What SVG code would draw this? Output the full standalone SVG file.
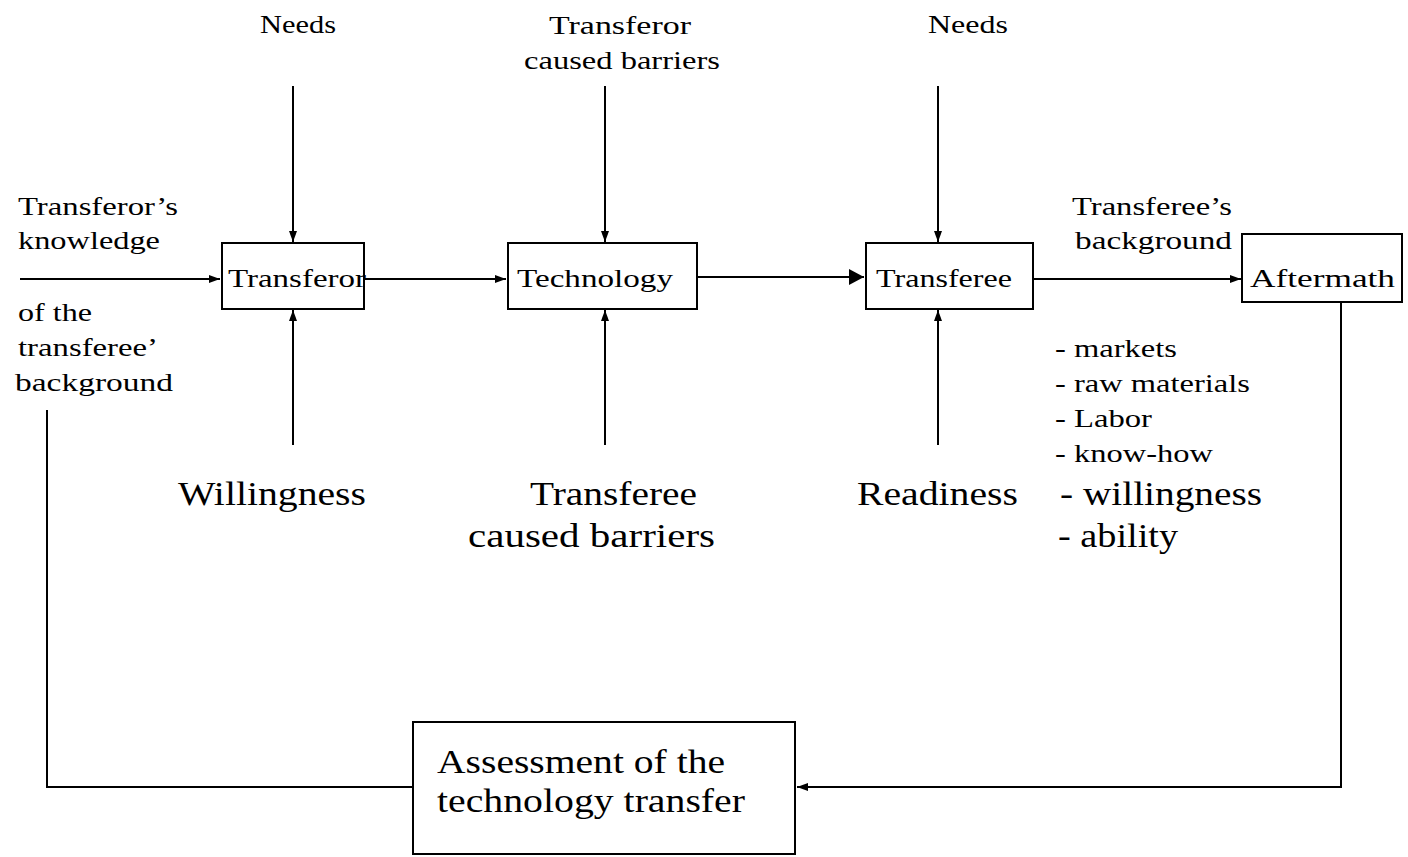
<svg xmlns="http://www.w3.org/2000/svg" width="1408" height="857" viewBox="0 0 1408 857">
  <defs>
    <marker id="arr" markerUnits="userSpaceOnUse" markerWidth="12" markerHeight="10" refX="11" refY="5" orient="auto">
      <path d="M0,1 L11,5 L0,9 Z" fill="#000"/>
    </marker>
    <marker id="arrBig" markerUnits="userSpaceOnUse" markerWidth="16" markerHeight="16" refX="15" refY="8" orient="auto">
      <path d="M0,0 L15,8 L0,16 Z" fill="#000"/>
    </marker>
  </defs>
  <style>
    .box { fill: #fff; stroke: #000; stroke-width: 2; }
    .ln { fill: none; stroke: #000; stroke-width: 2; }
    text { font-family: "Liberation Serif", "Times New Roman", serif; fill: #000; }
    .s { font-size: 25px; }
    .l { font-size: 34px; }
  </style>
  <rect width="1408" height="857" fill="#fff"/>

  <!-- connectors -->
  <g id="connectors">
    <line class="ln" x1="293" y1="86" x2="293" y2="242" marker-end="url(#arr)"/>
    <line class="ln" x1="293" y1="445" x2="293" y2="310" marker-end="url(#arr)"/>
    <line class="ln" x1="20" y1="279" x2="220" y2="279" marker-end="url(#arr)"/>
    <line class="ln" x1="360" y1="279" x2="506" y2="279" marker-end="url(#arr)"/>
    <line class="ln" x1="605" y1="86" x2="605" y2="242" marker-end="url(#arr)"/>
    <line class="ln" x1="605" y1="445" x2="605" y2="310" marker-end="url(#arr)"/>
    <line class="ln" x1="693" y1="277" x2="864" y2="277" marker-end="url(#arrBig)"/>
    <line class="ln" x1="938" y1="86" x2="938" y2="242" marker-end="url(#arr)"/>
    <line class="ln" x1="938" y1="445" x2="938" y2="310" marker-end="url(#arr)"/>
    <line class="ln" x1="1027" y1="279" x2="1241" y2="279" marker-end="url(#arr)"/>
    <polyline class="ln" points="1341,294 1341,787 797,787" marker-end="url(#arr)"/>
    <polyline class="ln" points="47,410 47,787 413,787"/>
  </g>

  <!-- side labels -->
  <g id="labels">
    <text class="s" x="298" y="33" text-anchor="middle" textLength="76" lengthAdjust="spacingAndGlyphs">Needs</text>
    <text class="s" x="620" y="34" text-anchor="middle" textLength="142" lengthAdjust="spacingAndGlyphs">Transferor</text>
    <text class="s" x="622" y="69" text-anchor="middle" textLength="196" lengthAdjust="spacingAndGlyphs">caused barriers</text>
    <text class="s" x="968" y="33" text-anchor="middle" textLength="80" lengthAdjust="spacingAndGlyphs">Needs</text>

    <text class="s" x="18" y="215" textLength="160" lengthAdjust="spacingAndGlyphs">Transferor’s</text>
    <text class="s" x="18" y="249" textLength="142" lengthAdjust="spacingAndGlyphs">knowledge</text>
    <text class="s" x="18" y="321" textLength="74" lengthAdjust="spacingAndGlyphs">of the</text>
    <text class="s" x="18" y="356" textLength="140" lengthAdjust="spacingAndGlyphs">transferee’</text>
    <text class="s" x="15" y="391" textLength="158" lengthAdjust="spacingAndGlyphs">background</text>

    <text class="s" x="1072" y="215" textLength="160" lengthAdjust="spacingAndGlyphs">Transferee’s</text>
    <text class="s" x="1075" y="249" textLength="157" lengthAdjust="spacingAndGlyphs">background</text>

    <text class="s" x="1055" y="357" textLength="122" lengthAdjust="spacingAndGlyphs">- markets</text>
    <text class="s" x="1055" y="392" textLength="195" lengthAdjust="spacingAndGlyphs">- raw materials</text>
    <text class="s" x="1055" y="427" textLength="97" lengthAdjust="spacingAndGlyphs">- Labor</text>
    <text class="s" x="1055" y="462" textLength="158" lengthAdjust="spacingAndGlyphs">- know-how</text>
    <text class="l" x="1060" y="505" textLength="202" lengthAdjust="spacingAndGlyphs">- willingness</text>
    <text class="l" x="1058" y="547" textLength="120" lengthAdjust="spacingAndGlyphs">- ability</text>

    <text class="l" x="178" y="505" textLength="188" lengthAdjust="spacingAndGlyphs">Willingness</text>
    <text class="l" x="530" y="505" textLength="167" lengthAdjust="spacingAndGlyphs">Transferee</text>
    <text class="l" x="468" y="547" textLength="247" lengthAdjust="spacingAndGlyphs">caused barriers</text>
    <text class="l" x="857" y="505" textLength="161" lengthAdjust="spacingAndGlyphs">Readiness</text>
  </g>

  <!-- nodes -->
  <g id="transferor">
    <rect class="box" x="222" y="243" width="142" height="66"/>
    <text class="s" x="228" y="287" textLength="138" lengthAdjust="spacingAndGlyphs">Transferor</text>
  </g>
  <g id="technology">
    <rect class="box" x="508" y="243" width="189" height="66"/>
    <text class="s" x="517" y="287" textLength="156" lengthAdjust="spacingAndGlyphs">Technology</text>
  </g>
  <g id="transferee">
    <rect class="box" x="866" y="243" width="167" height="66"/>
    <text class="s" x="876" y="287" textLength="136" lengthAdjust="spacingAndGlyphs">Transferee</text>
  </g>
  <g id="aftermath">
    <rect class="box" x="1242" y="234" width="160" height="68"/>
    <text class="s" x="1250" y="287" textLength="145" lengthAdjust="spacingAndGlyphs">Aftermath</text>
  </g>
  <g id="assessment">
    <rect class="box" x="413" y="722" width="382" height="132"/>
    <text class="l" x="437" y="773" textLength="288" lengthAdjust="spacingAndGlyphs">Assessment of the</text>
    <text class="l" x="437" y="812" textLength="308" lengthAdjust="spacingAndGlyphs">technology transfer</text>
  </g>
</svg>
